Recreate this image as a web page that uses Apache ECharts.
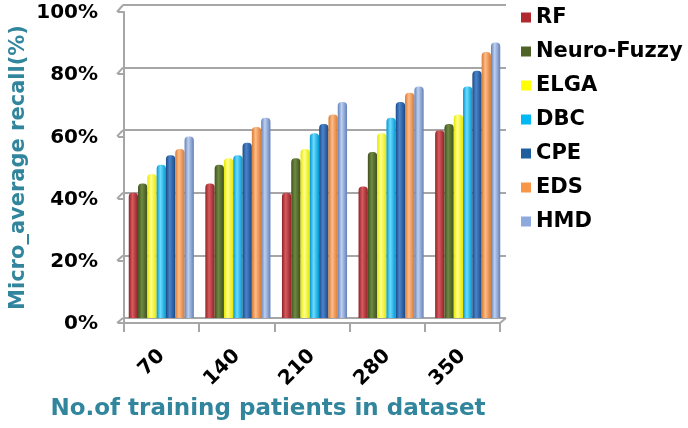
<!DOCTYPE html>
<html>
<head>
<meta charset="utf-8">
<script src="https://cdn.jsdelivr.net/npm/echarts@6/dist/echarts.min.js"></script>
<style>
html,body{margin:0;padding:0;background:#fff;}
#chart{width:688px;height:428px;}
</style>
</head>
<body>
<div id="chart"></div>
<script>
const categories = ['70', '140', '210', '280', '350'];
const seriesNames = ['RF', 'Neuro-Fuzzy', 'ELGA', 'DBC', 'CPE', 'EDS', 'HMD'];
const rf         = [40, 43, 40, 42, 60];
const neuroFuzzy = [43, 49, 51, 53, 62];
const elga       = [46, 51, 54, 59, 65];
const dbc        = [49, 52, 59, 64, 74];
const cpe        = [52, 56, 62, 69, 79];
const eds        = [54, 61, 65, 72, 85];
const hmd        = [58, 64, 69, 74, 88];
const yTicks = [0, 20, 40, 60, 80, 100];
const yTickLabels = ['0%', '20%', '40%', '60%', '80%', '100%'];
const yAxisTitle = 'Micro_average recall(%)';
const xAxisTitle = 'No.of training patients in dataset';

const values = [rf, neuroFuzzy, elga, dbc, cpe, eds, hmd];
const shades = [
  ['#8E2226', '#D85A5E', '#B0292E'],
  ['#3F5020', '#6F8A40', '#4F6228'],
  ['#E6E600', '#FFFF8A', '#FFFF00'],
  ['#0098D0', '#6CDAFF', '#00B8F2'],
  ['#1A4A86', '#4C84CC', '#215E9E'],
  ['#D87A32', '#FFBC88', '#F79646'],
  ['#6580B8', '#BCD0F0', '#8EA9DB']
];
const FONT = 'DejaVu Sans';

function cyl(s) {
  return new echarts.graphic.LinearGradient(0, 0, 1, 0, [
    {offset: 0, color: s[0]},
    {offset: 0.4, color: s[1]},
    {offset: 1, color: s[0]}
  ]);
}

const chart = echarts.init(document.getElementById('chart'), null, {renderer: 'canvas'});

const series = seriesNames.map((name, i) => ({
  name: name,
  type: 'bar',
  xAxisIndex: 0,
  yAxisIndex: 0,
  data: values[i],
  barGap: '0%',
  barCategoryGap: '15%',
  itemStyle: {color: cyl(shades[i]), borderRadius: [4, 4, 0, 0]},
  emphasis: {disabled: true}
}));

chart.setOption({
  animation: false,
  backgroundColor: '#ffffff',
  grid: [
    {left: 123, right: 182, top: 5, bottom: 110},
    {left: 117, right: 188, top: 12, bottom: 105}
  ],
  legend: {
    orient: 'vertical',
    left: 521,
    top: 7,
    padding: 0,
    itemWidth: 10,
    itemHeight: 10,
    itemGap: 13,
    icon: 'rect',
    data: seriesNames.map((n, i) => ({name: n, itemStyle: {color: shades[i][2]}})),
    textStyle: {fontFamily: FONT, fontWeight: 'bold', fontSize: 21, color: '#000'}
  },
  xAxis: [
    {
      type: 'category', gridIndex: 0, data: categories,
      axisLine: {show: false}, axisTick: {show: false}, axisLabel: {show: false}
    },
    {
      type: 'category', gridIndex: 1, data: categories,
      axisLine: {show: true, lineStyle: {color: '#A6A6A6', width: 2}},
      axisTick: {show: true, length: 9, lineStyle: {color: '#A6A6A6', width: 2}},
      axisLabel: {
        rotate: 45, margin: 30, color: '#000',
        fontFamily: FONT, fontWeight: 'bold', fontSize: 20
      }
    }
  ],
  yAxis: [
    {
      type: 'value', gridIndex: 0, min: 0, max: 100, interval: 20,
      axisLine: {show: false}, axisTick: {show: false}, axisLabel: {show: false},
      splitLine: {show: true, lineStyle: {color: '#A6A6A6', width: 2}}
    },
    {
      type: 'value', gridIndex: 1, min: yTicks[0], max: yTicks[yTicks.length - 1], interval: 20,
      axisLine: {show: true, lineStyle: {color: '#A6A6A6', width: 2}},
      axisTick: {show: true, length: 6, lineStyle: {color: '#A6A6A6', width: 2}},
      splitLine: {show: false},
      axisLabel: {show: false},
      name: yAxisTitle,
      nameLocation: 'middle',
      nameGap: 95,
      nameTextStyle: {color: '#31859C', fontFamily: FONT, fontWeight: 'bold', fontSize: 21}
    }
  ],
  series: series
});

// tick labels + decorative 3D connectors (derived from axes)
const g = [];
yTicks.forEach((v, i) => {
  const front = chart.convertToPixel({yAxisIndex: 1}, v);
  const back = chart.convertToPixel({yAxisIndex: 0}, v);
  g.push({
    type: 'line', silent: true,
    shape: {x1: 117, y1: front, x2: 123, y2: back},
    style: {stroke: '#A6A6A6', lineWidth: 2}
  });
  g.push({
    type: 'text', silent: true,
    style: {
      text: yTickLabels[i], x: 98, y: front + 1, textAlign: 'right', textVerticalAlign: 'middle',
      fill: '#000', font: 'bold 20px "DejaVu Sans"'
    }
  });
});
const fr = chart.convertToPixel({yAxisIndex: 1}, 0);
const bk = chart.convertToPixel({yAxisIndex: 0}, 0);
g.push({
  type: 'line', silent: true,
  shape: {x1: 500, y1: fr, x2: 506, y2: bk},
  style: {stroke: '#A6A6A6', lineWidth: 2}
});
g.push({
  type: 'text', silent: true,
  style: {
    text: xAxisTitle, x: 268, y: 409, textAlign: 'center', textVerticalAlign: 'middle',
    fill: '#31859C', font: 'bold 23px "DejaVu Sans"'
  }
});
chart.setOption({graphic: g});
</script>
</body>
</html>
